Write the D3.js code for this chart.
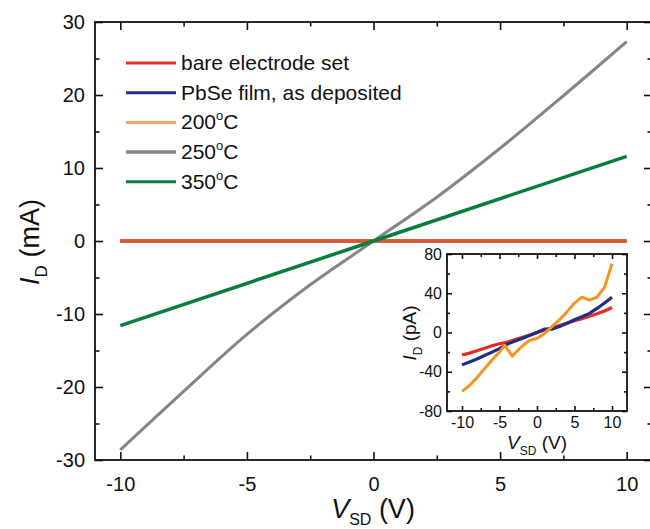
<!DOCTYPE html>
<html>
<head>
<meta charset="utf-8">
<script src="https://cdn.jsdelivr.net/npm/d3@7"></script>
<style>
  body { margin: 0; background: #fff; }
  svg text { font-family: "Liberation Sans", Arial, sans-serif; fill: #111; }
</style>
</head>
<body>
<div class="chart"></div>
<script>
// main panel data (mA)
var vMain = [-10, -7.5, -5, -2.5, 0, 2.5, 5, 7.5, 10];
var i250 = [-28.6, -20.6, -12.8, -6.0, 0, 6.0, 12.7, 19.9, 27.3];
var vEnds = [-10, 0, 10];
var i350 = [-11.6, 0, 11.6];
var iZero = [0, 0, 0];

// inset data (pA)
var vInset = [-10, -9, -8, -7, -6, -5, -4, -3, -2, -1, 0, 1, 2, 3, 4, 5, 6, 7, 8, 9, 10];
var iBare = [-23, -21, -18.5, -16, -13.5, -11.5, -10, -7.5, -5, -2.5, 0, 2.5, 4.5, 7, 9.5, 12, 14, 16.5, 19, 22, 25.5];
var iPbSe = [-33, -30, -27, -23.5, -20, -16.5, -12, -9, -6, -3, 0, 3.5, 3.5, 6, 9.5, 13, 16, 19.5, 24.5, 30, 36];
var v200 = [-10, -9, -8, -7, -6, -5, -4.3, -3.3, -2, -1, 0, 1, 2, 3, 4, 5, 6, 7, 8, 9, 10];
var i200 = [-60, -54, -46, -37, -28, -20, -13, -24, -14, -8, -6, -1, 6, 13, 21, 30, 36, 33, 36, 46, 70];

var legendLabels = ["bare electrode set", "PbSe film, as deposited", "200", "250", "350"];
var legendColors = ["#ec2a24", "#1f2d86", "#f9a263", "#858585", "#0c7c3c"];

var xTicksMain = [-10, -5, 0, 5, 10];
var xMinorMain = [-7.5, -2.5, 2.5, 7.5];
var yTicksMain = [-30, -20, -10, 0, 10, 20, 30];
var yMinorMain = [-25, -15, -5, 5, 15, 25];
var xTicksInset = [-10, -5, 0, 5, 10];
var xMinorInset = [-7.5, -2.5, 2.5, 7.5];
var yTicksInset = [-80, -40, 0, 40, 80];
var yMinorInset = [-60, -20, 20, 60];

var svgWidth = 650, svgHeight = 529;
var svg = d3.select(".chart").append("svg")
  .attr("width", svgWidth)
  .attr("height", svgHeight);

var fmt = function (d) { return String(d); };

// draws ticks on all four sides, pointing inward
function frame(g, x, y, xT, xM, yT, yM, major, minor, fs, padX, padY) {
  var x0 = x.range()[0], x1 = x.range()[1], y0 = y.range()[0], y1 = y.range()[1];
  var sets = [
    [d3.axisBottom(x), y0, 0, xT, xM, true],
    [d3.axisTop(x), y1, 0, xT, xM, false],
    [d3.axisLeft(y), 0, x0, yT, yM, true],
    [d3.axisRight(y), 0, x1, yT, yM, false]
  ];
  sets.forEach(function (s) {
    var tr = "translate(" + s[2] + "," + s[1] + ")";
    var ax = s[0].tickValues(s[3]).tickSize(-major).tickSizeOuter(0)
      .tickPadding(s[2] === x0 && s[1] === 0 ? padY : padX)
      .tickFormat(s[5] ? fmt : "");
    var gg = g.append("g").attr("transform", tr).call(ax);
    gg.select(".domain").remove();
    gg.selectAll("line").attr("stroke", "#111").attr("stroke-width", 1.6);
    gg.selectAll("text").attr("font-size", fs).attr("fill", "#111");
    var mAx = s[0].tickValues(s[4]).tickSize(-minor).tickFormat("");
    var gm = g.append("g").attr("transform", tr).call(mAx);
    gm.select(".domain").remove();
    gm.selectAll("line").attr("stroke", "#111").attr("stroke-width", 1.6);
  });
  g.append("rect")
    .attr("x", x0).attr("y", y1)
    .attr("width", x1 - x0).attr("height", y0 - y1)
    .attr("fill", "none").attr("stroke", "#111").attr("stroke-width", 1.8);
}

// ---- main panel
var x = d3.scaleLinear().domain([-11, 11]).range([95, 652]);
var y = d3.scaleLinear().domain([-30, 30]).range([460, 22]);

var line = d3.line()
  .x(function (d) { return x(d[0]); })
  .y(function (d) { return y(d[1]); });

var main = svg.append("g");

function zip(a, b) { return a.map(function (v, i) { return [v, b[i]]; }); }

// three near-zero curves overlap at this scale
main.append("path").datum(zip(vEnds, iZero)).attr("d", line)
  .attr("fill", "none").attr("stroke", "#1f2d86").attr("stroke-width", 3.5);
main.append("path").datum(zip(vEnds, iZero)).attr("d", line)
  .attr("fill", "none").attr("stroke", "#f7941d").attr("stroke-width", 3.5);
main.append("path").datum(zip(vEnds, iZero)).attr("d", line)
  .attr("fill", "none").attr("stroke", "#cf4a3c").attr("stroke-width", 3.5).attr("opacity", 0.8);
main.append("path").datum(zip(vMain, i250))
  .attr("d", d3.line().x(function (d) { return x(d[0]); }).y(function (d) { return y(d[1]); }).curve(d3.curveCatmullRom))
  .attr("fill", "none").attr("stroke", "#858585").attr("stroke-width", 3);
main.append("path").datum(zip(vEnds, i350)).attr("d", line)
  .attr("fill", "none").attr("stroke", "#0c7c3c").attr("stroke-width", 3.5);

frame(main, x, y, xTicksMain, xMinorMain, yTicksMain, yMinorMain, 8, 4.5, "20px", 17, 10);

// legend
var leg = main.append("g");
legendLabels.forEach(function (lab, i) {
  var ly = 63 + i * 29.7;
  leg.append("line").attr("x1", 126).attr("x2", 176).attr("y1", ly).attr("y2", ly)
    .attr("stroke", legendColors[i]).attr("stroke-width", i === 3 ? 3.5 : 3);
  var t = leg.append("text").attr("x", 181).attr("y", ly + 7).attr("font-size", "21px");
  if (i < 2) {
    t.text(lab);
  } else {
    t.append("tspan").text(lab);
    t.append("tspan").attr("font-size", "13px").attr("dy", -9).text("o");
    t.append("tspan").attr("dy", 9).text("C");
  }
});

// axis titles
var xt = main.append("text").attr("x", 373).attr("y", 518)
  .attr("text-anchor", "middle").attr("font-size", "27px");
xt.append("tspan").attr("font-style", "italic").text("V");
xt.append("tspan").attr("font-size", "16px").attr("dy", 7).text("SD");
xt.append("tspan").attr("dy", -7).text(" (V)");

var yt = main.append("text").attr("transform", "translate(39,242) rotate(-90)")
  .attr("text-anchor", "middle").attr("font-size", "27px");
yt.append("tspan").attr("font-style", "italic").text("I");
yt.append("tspan").attr("font-size", "17px").attr("dy", 8).text("D");
yt.append("tspan").attr("dy", -8).text(" (mA)");

// ---- inset
var xi = d3.scaleLinear().domain([-12, 12]).range([447, 627]);
var yi = d3.scaleLinear().domain([-80, 80]).range([411, 254]);
var lineI = d3.line()
  .x(function (d) { return xi(d[0]); })
  .y(function (d) { return yi(d[1]); });

var inset = svg.append("g");
inset.append("rect").attr("x", 447).attr("y", 254).attr("width", 180).attr("height", 157).attr("fill", "#fff");

inset.append("path").datum(zip(vInset, iBare)).attr("d", lineI)
  .attr("fill", "none").attr("stroke", "#ec2a24").attr("stroke-width", 3.2);
inset.append("path").datum(zip(vInset, iPbSe)).attr("d", lineI)
  .attr("fill", "none").attr("stroke", "#1f2d86").attr("stroke-width", 3.2);
inset.append("path").datum(zip(v200, i200)).attr("d", lineI)
  .attr("fill", "none").attr("stroke", "#f7941d").attr("stroke-width", 3).attr("stroke-linejoin", "round");

frame(inset, xi, yi, xTicksInset, xMinorInset, yTicksInset, yMinorInset, 5, 3, "16px", 6, 5);

var xti = inset.append("text").attr("x", 537).attr("y", 449)
  .attr("text-anchor", "middle").attr("font-size", "19px");
xti.append("tspan").attr("font-style", "italic").text("V");
xti.append("tspan").attr("font-size", "12px").attr("dy", 6).text("SD");
xti.append("tspan").attr("dy", -6).text(" (V)");

var yti = inset.append("text").attr("transform", "translate(416,333) rotate(-90)")
  .attr("text-anchor", "middle").attr("font-size", "19px");
yti.append("tspan").attr("font-style", "italic").text("I");
yti.append("tspan").attr("font-size", "12px").attr("dy", 6).text("D");
yti.append("tspan").attr("dy", -6).text(" (pA)");
</script>
</body>
</html>
